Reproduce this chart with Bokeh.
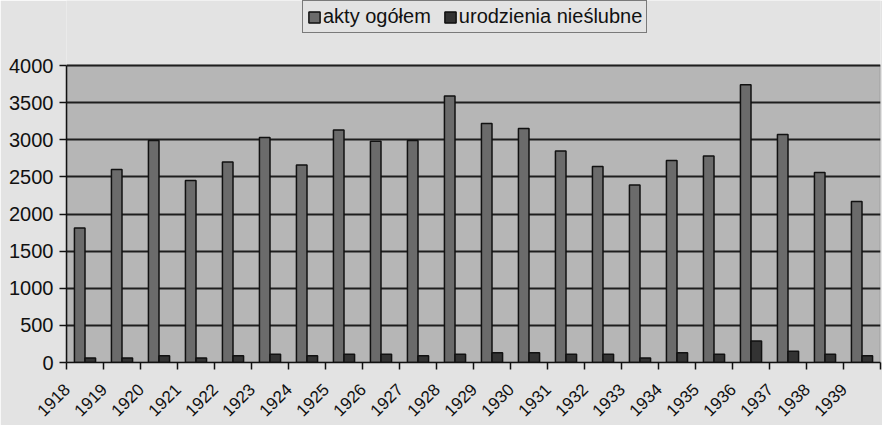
import math
from bokeh.plotting import figure
from bokeh.models import (ColumnDataSource, FixedTicker, Range1d, Legend, LegendItem,
                          CustomJSTickFormatter, BoxAnnotation)
from bokeh.transform import dodge
from bokeh.embed import file_html
from bokeh.resources import INLINE

years = [1918, 1919, 1920, 1921, 1922, 1923, 1924, 1925, 1926, 1927, 1928,
         1929, 1930, 1931, 1932, 1933, 1934, 1935, 1936, 1937, 1938, 1939]
akty_ogolem = [1810, 2600, 2990, 2450, 2700, 3030, 2660, 3130, 2980, 2990, 3590,
               3220, 3150, 2850, 2640, 2390, 2720, 2780, 3740, 3070, 2560, 2170]
urodzenia_nieslubne = [60, 60, 90, 60, 90, 110, 90, 110, 110, 90, 110,
                       130, 130, 110, 110, 60, 130, 110, 290, 150, 110, 90]
y_ticks = [0, 500, 1000, 1500, 2000, 2500, 3000, 3500, 4000]
series_names = ["akty ogółem", "urodzienia nieślubne"]

source = ColumnDataSource(data=dict(year=years, a=akty_ogolem, u=urodzenia_nieslubne))

FONT = "Liberation Sans"
PAGE = "#e3e3e3"
AREA = "#b6b6b6"

# frame spans the whole figure height above the x axis; the plot area (0..4000) sits
# in its lower part, leaving room for the legend on top
frame_bottom_px = 362      # pixel row of the value axis zero
area_top_px = 65           # pixel row of the top of the plot area
y_max = y_ticks[-1]
y_top = y_max * frame_bottom_px / (frame_bottom_px - area_top_px)
x0, x1 = years[0] - 0.5, years[-1] + 0.5

p = figure(width=882, height=425, output_backend="svg", toolbar_location=None,
           x_range=Range1d(x0, x1), y_range=Range1d(0, y_top),
           min_border_left=66, min_border_right=2, min_border_top=0,
           min_border_bottom=425 - frame_bottom_px)

p.background_fill_color = PAGE
p.border_fill_color = PAGE
p.outline_line_color = None

area = BoxAnnotation(left=x0, right=x1, bottom=0, top=y_max, fill_color=AREA, fill_alpha=1.0,
                     line_color="#333333", line_width=1.5, level="image")
p.add_layout(area)

bw = 1.0 / 3.5
r1 = p.vbar(x=dodge("year", -bw / 2, range=p.x_range), top="a", width=bw, source=source,
            fill_color="#6b6b6b", line_color="#111111", line_width=1.5)
r2 = p.vbar(x=dodge("year", bw / 2, range=p.x_range), top="u", width=bw, source=source,
            fill_color="#333333", line_color="#111111", line_width=1.5)

p.xgrid.grid_line_color = None
p.ygrid.grid_line_color = "#1e1e1e"
p.ygrid.grid_line_width = 2
p.ygrid.ticker = FixedTicker(ticks=y_ticks)

p.yaxis.ticker = FixedTicker(ticks=y_ticks)
p.yaxis.bounds = (0, y_max)
p.yaxis.major_label_text_font = FONT
p.yaxis.major_label_text_font_size = "20px"
p.yaxis.major_label_text_color = "#111111"
p.yaxis.major_tick_out = 7
p.yaxis.major_tick_in = 0
p.yaxis.major_tick_line_color = "#111111"
p.yaxis.major_tick_line_width = 1.5
p.yaxis.minor_tick_line_color = None
p.yaxis.axis_line_color = "#111111"
p.yaxis.axis_line_width = 1.5
p.yaxis.major_label_standoff = 6

# labels anchored left of category centres (as in the original), ticks at boundaries
label_off = 0.49
label_pos = [y - label_off for y in years]
boundaries = [y - 0.5 for y in years] + [years[-1] + 0.5]
p.xaxis.ticker = FixedTicker(ticks=label_pos, minor_ticks=boundaries)
p.xaxis.formatter = CustomJSTickFormatter(args=dict(off=label_off),
                                          code="return Math.round(tick + off).toString();")
p.xaxis.major_label_orientation = math.pi / 4
p.xaxis.major_label_text_font = FONT
p.xaxis.major_label_text_font_size = "17px"
p.xaxis.major_label_text_color = "#111111"
p.xaxis.major_tick_line_color = None
p.xaxis.minor_tick_line_color = "#111111"
p.xaxis.minor_tick_line_width = 1.5
p.xaxis.minor_tick_out = 7
p.xaxis.minor_tick_in = 0
p.xaxis.axis_line_color = "#111111"
p.xaxis.axis_line_width = 1.5
p.xaxis.major_label_standoff = 17

legend = Legend(items=[LegendItem(label=series_names[0], renderers=[r1]),
                       LegendItem(label=series_names[1], renderers=[r2])],
                orientation="horizontal", location=(236, 329))
legend.label_text_font = FONT
legend.label_text_font_size = "20px"
legend.label_text_color = "#111111"
legend.glyph_width = 14
legend.glyph_height = 14
legend.label_standoff = 2
legend.spacing = 12
legend.padding = 4
legend.margin = 0
legend.border_line_color = "#111111"
legend.border_line_width = 1.5
legend.background_fill_color = PAGE
legend.background_fill_alpha = 1.0
legend.label_height = 20
p.add_layout(legend, "center")

html = file_html(p, INLINE)
html = html.replace("<body>", '<body style="background-color:#e3e3e3;">', 1)
open("out.html", "w").write(html)
